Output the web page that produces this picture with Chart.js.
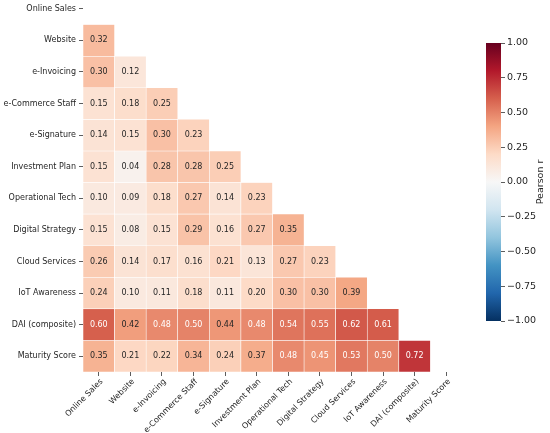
<!DOCTYPE html>
<html>
<head>
<meta charset="utf-8">
<script src="https://cdn.jsdelivr.net/npm/chart.js@4.4.1/dist/chart.umd.min.js"></script>
<style>
  html, body { margin: 0; padding: 0; background: #fff; overflow: hidden; }
  body { width: 550px; height: 433px; position: relative; }
  #heat { position: absolute; left: 0; top: -7px; }
  #cbar { position: absolute; left: 470px; top: 30px; }
</style>
</head>
<body>
<canvas id="heat" width="550" height="440" style="width:550px;height:440px"></canvas>
<canvas id="cbar" width="80" height="300" style="width:80px;height:300px"></canvas>
<script>
// variables, in matrix order
const variables = ['Online Sales', 'Website', 'e-Invoicing', 'e-Commerce Staff', 'e-Signature',
  'Investment Plan', 'Operational Tech', 'Digital Strategy', 'Cloud Services', 'IoT Awareness',
  'DAI (composite)', 'Maturity Score'];

// lower triangle of the correlation matrix, one row per variable
const rowOnlineSales = [];
const rowWebsite = [0.32];
const rowInvoicing = [0.30, 0.12];
const rowStaff = [0.15, 0.18, 0.25];
const rowSignature = [0.14, 0.15, 0.30, 0.23];
const rowInvestment = [0.15, 0.04, 0.28, 0.28, 0.25];
const rowOperational = [0.10, 0.09, 0.18, 0.27, 0.14, 0.23];
const rowStrategy = [0.15, 0.08, 0.15, 0.29, 0.16, 0.27, 0.35];
const rowCloud = [0.26, 0.14, 0.17, 0.16, 0.21, 0.13, 0.27, 0.23];
const rowIoT = [0.24, 0.10, 0.11, 0.18, 0.11, 0.20, 0.30, 0.30, 0.39];
const rowDAI = [0.60, 0.42, 0.48, 0.50, 0.44, 0.48, 0.54, 0.55, 0.62, 0.61];
const rowMaturity = [0.35, 0.21, 0.22, 0.34, 0.24, 0.37, 0.48, 0.45, 0.53, 0.50, 0.72];

const cbarTicks = [-1, -0.75, -0.5, -0.25, 0, 0.25, 0.5, 0.75, 1];

const rows = [rowOnlineSales, rowWebsite, rowInvoicing, rowStaff, rowSignature, rowInvestment,
  rowOperational, rowStrategy, rowCloud, rowIoT, rowDAI, rowMaturity];

// RdBu_r, from -1 to 1
const rdbu = ['#053061', '#2166ac', '#4393c3', '#92c5de', '#d1e5f0', '#f7f7f7',
  '#fddbc7', '#f4a582', '#d6604d', '#b2182b', '#67001f'];

function hexRgb(h) {
  return [parseInt(h.slice(1, 3), 16), parseInt(h.slice(3, 5), 16), parseInt(h.slice(5, 7), 16)];
}

function colorFor(v) {
  let t = (v + 1) / 2 * (rdbu.length - 1);
  let i = Math.min(Math.floor(t), rdbu.length - 2);
  let f = t - i;
  let a = hexRgb(rdbu[i]), b = hexRgb(rdbu[i + 1]);
  let c = a.map((x, k) => Math.round(x + (b[k] - x) * f));
  return 'rgb(' + c.join(',') + ')';
}

const FONT = 'DejaVu Sans';
const TEXT = '#262626';
Chart.defaults.font.family = FONT;

const datasets = [];
rows.forEach(function (row, i) {
  if (!row.length) return;
  datasets.push({
    data: row.map((v, j) => ({ x: variables[j], y: [i - 0.5, i + 0.5] })),
    values: row,
    backgroundColor: row.map(colorFor),
    borderColor: '#ffffff',
    borderWidth: 0.6,
    borderSkipped: false,
    grouped: false,
    barPercentage: 1,
    categoryPercentage: 1
  });
});

const annotate = {
  id: 'annotate',
  afterDatasetsDraw: function (chart) {
    const ctx = chart.ctx;
    ctx.save();
    ctx.font = '8px "' + FONT + '"';
    ctx.textAlign = 'center';
    ctx.textBaseline = 'middle';
    chart.data.datasets.forEach(function (ds, d) {
      chart.getDatasetMeta(d).data.forEach(function (el, k) {
        let v = ds.values[k];
        ctx.fillStyle = v >= 0.45 ? '#ffffff' : TEXT;
        ctx.fillText(v.toFixed(2), el.x, (el.y + el.base) / 2);
      });
    });
    ctx.restore();
  }
};

new Chart(document.getElementById('heat'), {
  type: 'bar',
  data: { labels: variables, datasets: datasets },
  options: {
    responsive: false,
    animation: false,
    layout: { padding: { left: 0, right: 88, top: 0, bottom: 0 } },
    plugins: { legend: { display: false }, tooltip: { enabled: false } },
    scales: {
      x: {
        type: 'category',
        offset: true,
        grid: { offset: false, drawOnChartArea: false, tickLength: 4, color: '#333', lineWidth: 0.8 },
        border: { display: false },
        ticks: { minRotation: 45, maxRotation: 45, autoSkip: false, color: TEXT, font: { size: 8 }, padding: 1, labelOffset: 3 },
        afterFit: function (s) { s.height = 61; s.paddingLeft = 0; s.paddingRight = 0; }
      },
      y: {
        type: 'linear',
        reverse: true,
        min: -0.5,
        max: 11.5,
        afterBuildTicks: function (s) { s.ticks = variables.map((_, i) => ({ value: i })); },
        grid: { drawOnChartArea: false, tickLength: 4, color: '#333', lineWidth: 0.8 },
        border: { display: false },
        ticks: {
          autoSkip: false, color: TEXT, font: { size: 8 }, padding: 3,
          callback: function (value) { return variables[Math.round(value)]; }
        },
        afterFit: function (s) { s.width = 83; s.paddingTop = 0; s.paddingBottom = 0; }
      }
    }
  },
  plugins: [annotate]
});

// colour bar
const cbarTitle = {
  id: 'cbarTitle',
  afterDraw: function (chart) {
    const ctx = chart.ctx;
    const area = chart.chartArea;
    ctx.save();
    ctx.font = '9.5px "' + FONT + '"';
    ctx.fillStyle = TEXT;
    ctx.textAlign = 'center';
    ctx.textBaseline = 'middle';
    ctx.translate(71, (area.top + area.bottom) / 2);
    ctx.rotate(-Math.PI / 2);
    ctx.fillText('Pearson r', 0, 0);
    ctx.restore();
  }
};

function fmtTick(v) {
  return v < 0 ? '\u2212' + Math.abs(v).toFixed(2) : v.toFixed(2);
}

new Chart(document.getElementById('cbar'), {
  type: 'bar',
  data: {
    labels: ['r'],
    datasets: [{
      data: [[cbarTicks[0], cbarTicks[cbarTicks.length - 1]]],
      backgroundColor: function (c) {
        const area = c.chart.chartArea;
        if (!area) return '#f7f7f7';
        const g = c.chart.ctx.createLinearGradient(0, area.bottom, 0, area.top);
        rdbu.forEach((col, i) => g.addColorStop(i / (rdbu.length - 1), col));
        return g;
      },
      borderWidth: 0,
      barPercentage: 1,
      categoryPercentage: 1
    }]
  },
  options: {
    responsive: false,
    animation: false,
    layout: { padding: { left: 16, right: 0, top: 13, bottom: 9 } },
    plugins: { legend: { display: false }, tooltip: { enabled: false } },
    scales: {
      x: { type: 'category', display: false },
      y: {
        position: 'right',
        min: -1,
        max: 1,
        afterBuildTicks: function (s) { s.ticks = cbarTicks.map(v => ({ value: v })); },
        grid: { drawOnChartArea: false, tickLength: 4, color: '#333', lineWidth: 0.8 },
        border: { display: false },
        ticks: { color: TEXT, font: { size: 9.5 }, padding: 2, callback: fmtTick },
        afterFit: function (s) { s.width = 49; s.paddingTop = 0; s.paddingBottom = 0; }
      }
    }
  },
  plugins: [cbarTitle]
});
</script>
</body>
</html>
